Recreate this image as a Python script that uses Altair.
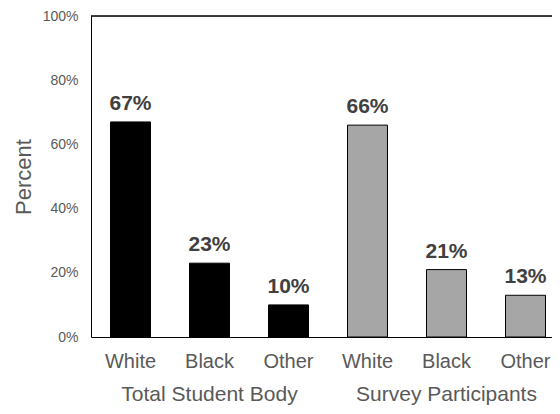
import altair as alt
import pandas as pd

groups = ["Total Student Body", "Total Student Body", "Total Student Body",
          "Survey Participants", "Survey Participants", "Survey Participants"]
races = ["White", "Black", "Other", "White", "Black", "Other"]
values = [67, 23, 10, 66, 21, 13]
group_names = ["Total Student Body", "Survey Participants"]
group_center_race = ["Black", "Black"]
bar_colors = ["#000000", "#a6a6a6"]
y_ticks = [0, 20, 40, 60, 80, 100]

df = pd.DataFrame({
    "group": groups,
    "race": races,
    "value": values,
})
df["key"] = df["group"] + "|" + df["race"]
df["label"] = df["value"].astype(str) + "%"
order = list(df["key"])

gdf = pd.DataFrame({"group": group_names, "race": group_center_race})
gdf["key"] = gdf["group"] + "|" + gdf["race"]

W = 474
H = 321
xscale = alt.Scale(domain=order, paddingInner=0.494, paddingOuter=0.247)

x_enc = alt.X("key:N", sort=order, scale=xscale, title=None,
              axis=alt.Axis(labelExpr="split(datum.label, '|')[1]", labelAngle=0,
                            ticks=False, domainColor="#000000", labelColor="#595959",
                            labelFont="Liberation Sans", labelFontSize=20, labelPadding=14,
                            labelOverlap=False, labelBound=False))
y_enc = alt.Y("value:Q", scale=alt.Scale(domain=[0, 100]), title="Percent",
              axis=alt.Axis(values=y_ticks, labelExpr="datum.value + '%'", ticks=False,
                            grid=False, domainColor="#000000", labelColor="#595959",
                            labelFont="Liberation Sans", labelFontSize=14, labelPadding=13,
                            titleColor="#595959", titleFont="Liberation Sans",
                            titleFontSize=22, titleFontWeight="normal", titlePadding=7))

base = alt.Chart(df)
bars = base.mark_bar(stroke="#000000", strokeWidth=1).encode(
    x=x_enc,
    y=y_enc,
    color=alt.Color("group:N", scale=alt.Scale(domain=group_names, range=bar_colors), legend=None),
)
texts = base.mark_text(font="Liberation Sans", fontSize=21, fontWeight="bold",
                       color="#404040", dy=-12, baseline="alphabetic").encode(
    x=alt.X("key:N", sort=order),
    y=alt.Y("value:Q"),
    text="label:N",
)
glabels = alt.Chart(gdf).mark_text(font="Liberation Sans", fontSize=21, color="#595959",
                                   baseline="alphabetic").encode(
    x=alt.X("key:N", sort=order),
    y=alt.value(H + 64),
    text="group:N",
)
top_line = alt.Chart(gdf).mark_rule(color="#000000", strokeWidth=1).encode(
    x=alt.value(0), x2=alt.value(W), y=alt.value(0)
)

chart = alt.layer(bars, texts, glabels, top_line).properties(
    width=W, height=H,
    autosize=alt.AutoSizeParams(type="none"),
    padding={"left": 83, "top": 8, "right": -13, "bottom": 68},
).configure_view(stroke=None).configure(background="#ffffff")

chart.save("out.html", embed_options={"renderer": "svg", "actions": False})
